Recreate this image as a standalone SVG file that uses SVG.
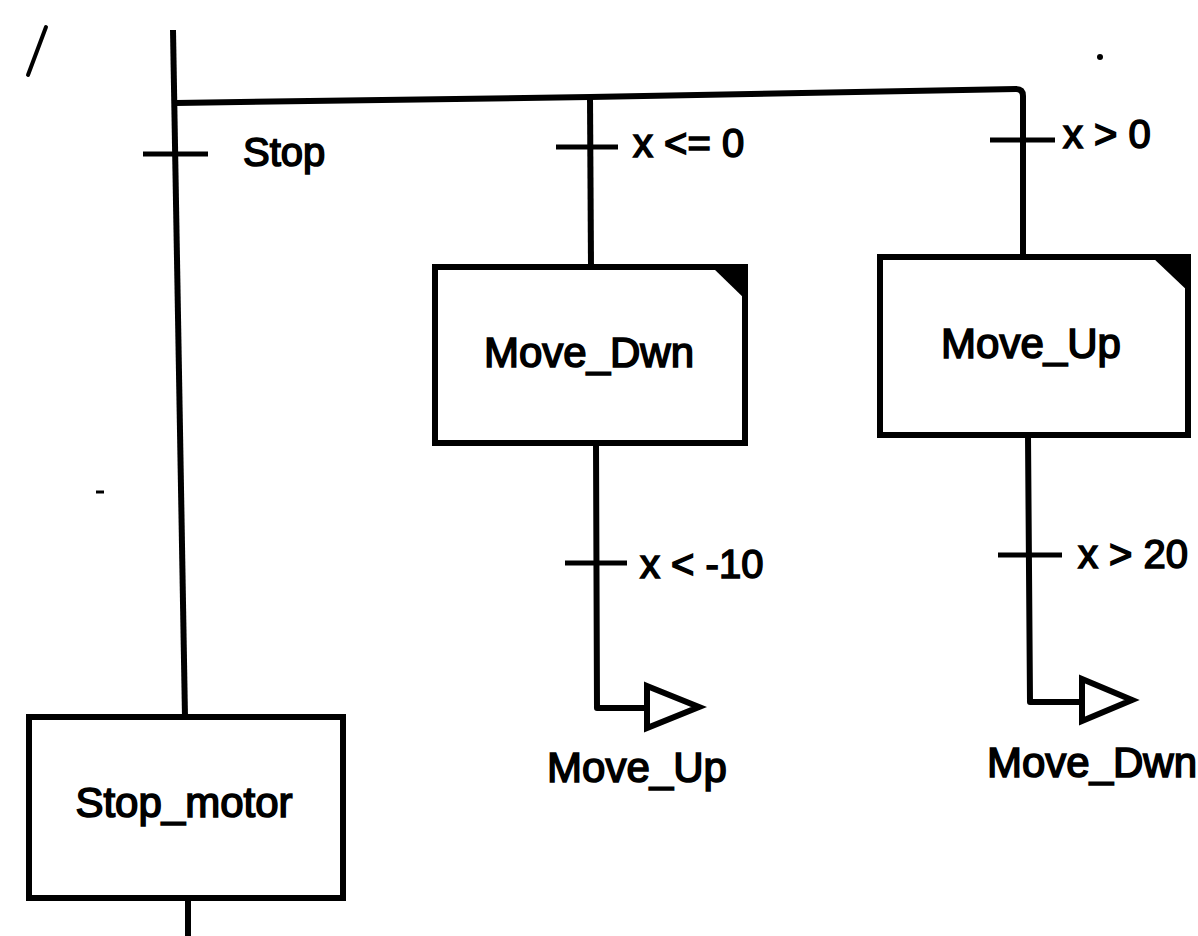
<svg xmlns="http://www.w3.org/2000/svg" width="1198" height="936" viewBox="0 0 1198 936">
<style>
  .ln { fill: none; stroke: #000; stroke-width: 6; stroke-linejoin: round; }
  .tr { fill: none; stroke: #000; stroke-width: 5; }
  .box { fill: #fff; stroke: #000; stroke-width: 6; }
  .corner { fill: #000; stroke: none; }
  .arr { fill: #fff; stroke: #000; stroke-width: 6; stroke-linejoin: miter; }
  .t { font-family: "Liberation Sans", Arial, sans-serif; font-size: 42px; fill: #000; stroke: #000; stroke-width: 1.6; }
  .lbl { font-family: "Liberation Sans", Arial, sans-serif; font-size: 40px; fill: #000; stroke: #000; stroke-width: 1.6; }
</style>
<rect width="1198" height="936" fill="#fff"/>
<g id="connectors">
  <path class="ln" d="M173,30 L185,717"/>
  <path class="ln" d="M176,103 L590,97 L1016,89 Q1023,89 1023,96 L1023,257"/>
  <path class="ln" d="M590,97 L591,267"/>
  <path class="ln" d="M596,443 L597,708 L645,708"/>
  <path class="ln" d="M1028,435 L1030,702 L1080,702"/>
  <path class="ln" d="M188,898 L188,936"/>
  <path class="tr" d="M143,154 L208,154"/>
  <path class="tr" d="M556,147 L618,147"/>
  <path class="tr" d="M990,140 L1055,140"/>
  <path class="tr" d="M565,563 L627,563"/>
  <path class="tr" d="M998,555 L1062,555"/>
  <polygon class="arr" points="647,686 699,707 647,728"/>
  <polygon class="arr" points="1082,679 1132,700 1082,721"/>
</g>
<g id="labels">
  <text class="lbl" x="243" y="166">Stop</text>
  <text class="lbl" x="633" y="157">x &lt;= 0</text>
  <text class="lbl" x="1063" y="148">x &gt; 0</text>
  <text class="lbl" x="640" y="578">x &lt; -10</text>
  <text class="lbl" x="1078" y="568">x &gt; 20</text>
  <text class="t" x="637" y="782" text-anchor="middle">Move_Up</text>
  <text class="t" x="1092" y="777" text-anchor="middle">Move_Dwn</text>
</g>
<g id="node-move-dwn">
  <rect class="box" x="435" y="267" width="310" height="176"/>
  <polygon class="corner" points="712,267 748,267 748,302"/>
  <text class="t" x="589" y="367" text-anchor="middle">Move_Dwn</text>
</g>
<g id="node-move-up">
  <rect class="box" x="880" y="257" width="308" height="178"/>
  <polygon class="corner" points="1152,257 1191,257 1191,294"/>
  <text class="t" x="1031" y="358" text-anchor="middle">Move_Up</text>
</g>
<g id="node-stop-motor">
  <rect class="box" x="29" y="717" width="314" height="181"/>
  <text class="t" x="184" y="817" text-anchor="middle">Stop_motor</text>
</g>
<g id="marks">
  <path d="M46,27 L28,75" stroke="#000" stroke-width="4" fill="none" stroke-linecap="round"/>
  <circle cx="1100" cy="57" r="3" fill="#000"/>
  <path d="M96,492 L104,492" stroke="#000" stroke-width="3"/>
</g>
</svg>
